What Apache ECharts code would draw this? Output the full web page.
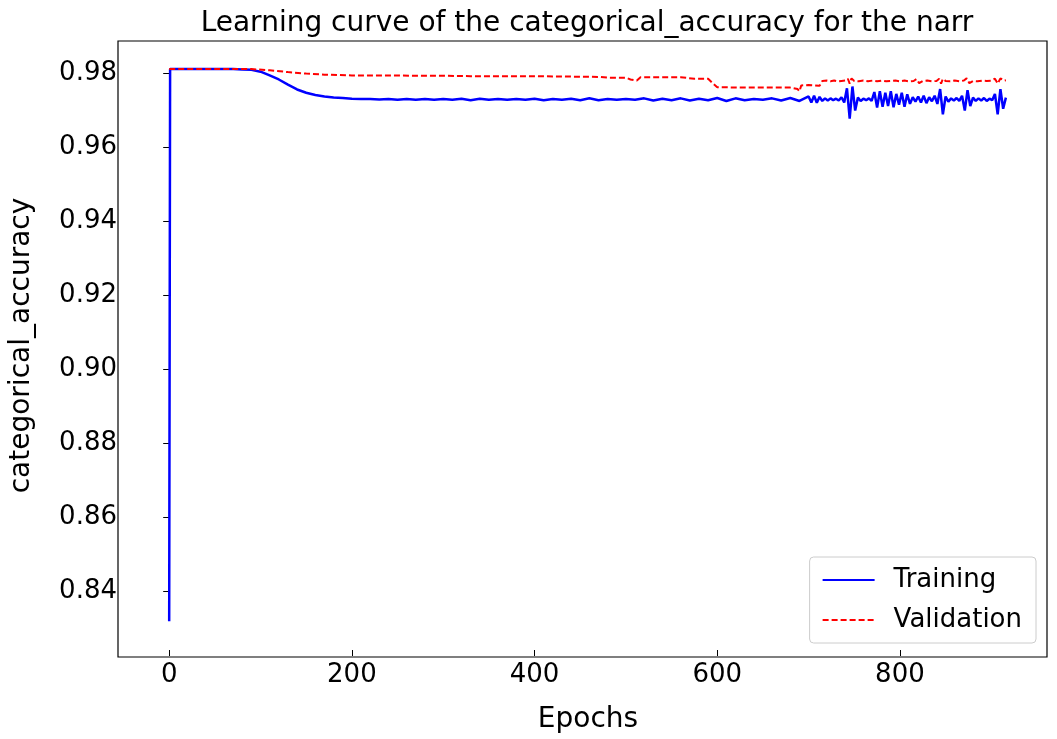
<!DOCTYPE html>
<html>
<head>
<meta charset="utf-8">
<script src="https://cdn.jsdelivr.net/npm/echarts@6/dist/echarts.min.js"></script>
<style>html,body{margin:0;padding:0;background:#fff}#chart{width:1057px;height:739px}</style>
</head>
<body>
<div id="chart"></div>
<script>
var xTicks = [0, 200, 400, 600, 800];
var yTicks = [0.84, 0.86, 0.88, 0.90, 0.92, 0.94, 0.96, 0.98];

var trainEpochs = [0, 1, 10, 20, 30, 40, 50, 60, 70, 80, 90, 100, 110, 120, 130, 140, 150, 160, 170, 180, 190, 200, 210, 220, 230, 240, 250,
    260, 270, 280, 290, 300, 310, 320, 330, 340, 350, 360, 370, 380, 390, 400, 410, 420, 430, 440, 450, 460, 470, 480, 490, 500,
    510, 520, 530, 540, 550, 560, 570, 580, 590, 600, 610, 620, 630, 640, 650, 660, 670, 680, 690,
    700, 703, 706, 709, 712, 715, 718, 721, 724, 727, 730, 733, 736, 739, 742, 745, 748, 751, 754, 757, 760, 763, 766, 769,
    772, 775, 778, 781, 784, 787, 790, 793, 796, 799, 802, 805, 808, 811, 814, 817, 820, 823, 826, 829, 832, 835, 838, 841,
    844, 847, 850, 853, 856, 859, 862, 865, 868, 871, 874, 877, 880, 883, 886, 889, 892, 895, 898, 901, 904, 907, 910, 913, 916];
var trainValues = [0.832, 0.9812, 0.9812, 0.9812, 0.9812, 0.9812, 0.9812, 0.9812, 0.9812, 0.9811, 0.9810, 0.9805, 0.9795, 0.9784, 0.9770, 0.9757, 0.9748, 0.9742, 0.9738, 0.9735, 0.9734, 0.9732, 0.9731, 0.9731, 0.9730, 0.9731, 0.9729,
    0.9731, 0.9729, 0.9731, 0.9729, 0.9731, 0.9729, 0.9732, 0.9728, 0.9732, 0.9729, 0.9731, 0.9729, 0.9731, 0.9729, 0.9732, 0.9728, 0.9731, 0.9729, 0.9732, 0.9728, 0.9733, 0.9728, 0.9731, 0.9729, 0.9731,
    0.9729, 0.9733, 0.9727, 0.9732, 0.9728, 0.9733, 0.9727, 0.9732, 0.9728, 0.9734, 0.9726, 0.9733, 0.9728, 0.9731, 0.9729, 0.9733, 0.9727, 0.9734, 0.9726,
    0.9738, 0.9722, 0.9740, 0.9721, 0.9737, 0.9726, 0.9733, 0.9727, 0.9733, 0.9728, 0.9732, 0.9727, 0.9736, 0.9722, 0.9760, 0.9678, 0.9765, 0.9700, 0.9735, 0.9726, 0.9732, 0.9728, 0.9733, 0.9726,
    0.9750, 0.9708, 0.9752, 0.9710, 0.9748, 0.9712, 0.9752, 0.9709, 0.9745, 0.9716, 0.9748, 0.9710, 0.9744, 0.9718, 0.9736, 0.9724, 0.9738, 0.9722, 0.9740, 0.9720, 0.9736, 0.9725, 0.9740, 0.9718,
    0.9758, 0.9690, 0.9738, 0.9724, 0.9733, 0.9727, 0.9734, 0.9726, 0.9740, 0.9700, 0.9755, 0.9712, 0.9735, 0.9726, 0.9733, 0.9727, 0.9734, 0.9726, 0.9732, 0.9728, 0.9745, 0.9690, 0.9758, 0.9705, 0.9735];

var valEpochs = [0, 50, 90, 110, 130, 150, 170, 200, 300, 330, 400, 430, 470, 480, 500, 505, 512, 514, 516, 560, 575, 590, 595, 600, 640, 680, 688, 690, 692, 700, 712, 715,
    720, 724, 728, 732, 736, 740, 743, 745, 747, 750, 755, 760, 765, 770, 775, 780, 785, 790, 795, 800, 805, 810, 815, 818, 821, 825, 830, 835, 840,
    843, 845, 847, 850, 855, 860, 865, 870, 873, 876, 880, 885, 890, 895, 900, 904, 907, 910, 914, 916];
var valValues = [0.9812, 0.9812, 0.9812, 0.9809, 0.9804, 0.9800, 0.9797, 0.9795, 0.9794, 0.9793, 0.9793, 0.9792, 0.9791, 0.9789, 0.9789, 0.9784, 0.9781, 0.9776, 0.9790, 0.9790, 0.9786, 0.9786, 0.9774, 0.9763, 0.9762, 0.9762, 0.9758, 0.9752, 0.9768, 0.9769, 0.9767, 0.9780,
    0.9781, 0.9779, 0.9781, 0.9779, 0.9780, 0.9781, 0.9786, 0.9773, 0.9787, 0.9780, 0.9779, 0.9781, 0.9779, 0.9781, 0.9779, 0.9781, 0.9779, 0.9780, 0.9781, 0.9779, 0.9781, 0.9779, 0.9780, 0.9785, 0.9774, 0.9780, 0.9781, 0.9779, 0.9780,
    0.9786, 0.9773, 0.9786, 0.9780, 0.9779, 0.9781, 0.9779, 0.9781, 0.9787, 0.9774, 0.9780, 0.9779, 0.9781, 0.9780, 0.9781, 0.9786, 0.9773, 0.9787, 0.9781, 0.9782];

function pairs(xs, ys) {
    var out = [];
    for (var i = 0; i < xs.length; i++) out.push([xs[i], ys[i]]);
    return out;
}

var myChart = echarts.init(document.getElementById('chart'), null, { renderer: 'canvas' });
var font = 'DejaVu Sans';
var option = {
    animation: false,
    title: {
        text: 'Learning curve of the categorical_accuracy for the narr',
        left: 582, top: 5, textAlign: 'center',
        textStyle: { fontFamily: font, fontSize: 28, fontWeight: 'normal', color: '#000' }
    },
    grid: { left: 118, right: 10, top: 41, bottom: 82 },
    legend: {
        data: [
            { name: 'Training', itemStyle: { opacity: 0 } },
            { name: 'Validation', itemStyle: { opacity: 0 } }
        ],
        orient: 'vertical', right: 21, bottom: 96,
        itemWidth: 52, itemHeight: 14, itemGap: 14,
        padding: [10, 14, 10, 12],
        borderColor: '#ccc', borderWidth: 1, borderRadius: 4,
        textStyle: { fontFamily: font, fontSize: 26, color: '#000', padding: [0, 0, 0, 14] }
    },
    xAxis: {
        type: 'value', min: -44, max: 961,
        name: 'Epochs', nameLocation: 'middle', nameGap: 56,
        nameTextStyle: { fontFamily: font, fontSize: 28, color: '#000' },
        splitLine: { show: false },
        axisLine: { show: false },
        axisTick: { show: true, customValues: xTicks, length: 6, lineStyle: { color: '#000' } },
        axisLabel: { customValues: xTicks, fontFamily: font, fontSize: 26, color: '#000', margin: 12 }
    },
    yAxis: {
        type: 'value', min: 0.8242, max: 0.9888,
        name: 'categorical_accuracy', nameLocation: 'middle', nameGap: 93,
        nameTextStyle: { fontFamily: font, fontSize: 28, color: '#000' },
        splitLine: { show: false },
        axisLine: { show: false },
        axisTick: { show: true, customValues: yTicks, length: 6, lineStyle: { color: '#000' } },
        axisLabel: { customValues: yTicks, fontFamily: font, fontSize: 26, color: '#000', margin: 12,
            formatter: function (v) { return v.toFixed(2); } }
    },
    series: [
        {
            name: 'Training', type: 'line', showSymbol: false, symbol: 'none',
            data: pairs(trainEpochs, trainValues),
            lineStyle: { color: '#0000ff', width: 2.5 }, itemStyle: { color: '#0000ff' }
        },
        {
            name: 'Validation', type: 'line', showSymbol: false, symbol: 'none',
            data: pairs(valEpochs, valValues),
            lineStyle: { color: '#ff0000', width: 2, type: [6, 3] }, itemStyle: { color: '#ff0000' }
        }
    ],
    graphic: [{ type: 'rect', z: 100, shape: { x: 118, y: 41, width: 929, height: 616 }, style: { fill: 'none', stroke: '#000', lineWidth: 1.2 }, silent: true }]
};
myChart.setOption(option);
window.addEventListener('resize', myChart.resize);
</script>
</body>
</html>
